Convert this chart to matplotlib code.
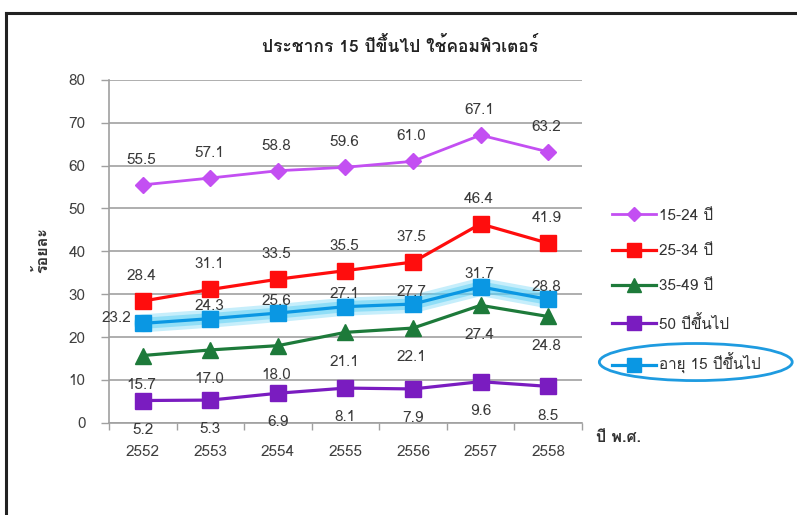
import matplotlib
matplotlib.use("Agg")
import matplotlib.pyplot as plt
import matplotlib.patches as mpatches
from matplotlib import font_manager as fm
from matplotlib.ft2font import FT2Font
import numpy as np

years = ["2552", "2553", "2554", "2555", "2556", "2557", "2558"]
age_15_24 = [55.5, 57.1, 58.8, 59.6, 61.0, 67.1, 63.2]
age_25_34 = [28.4, 31.1, 33.5, 35.5, 37.5, 46.4, 41.9]
age_35_49 = [15.7, 17.0, 18.0, 21.1, 22.1, 27.4, 24.8]
age_50_up = [5.2, 5.3, 6.9, 8.1, 7.9, 9.6, 8.5]
age_15_up = [23.2, 24.3, 25.6, 27.1, 27.7, 31.7, 28.8]
series_names = ["15-24 ปี", "25-34 ปี", "35-49 ปี", "50 ปีขึ้นไป", "อายุ 15 ปีขึ้นไป"]

# find a font that can draw Thai
thai_font = None
for f in fm.fontManager.ttflist:
    try:
        if 0x0E1B in FT2Font(f.fname).get_charmap():
            thai_font = f.name
            break
    except Exception:
        pass
families = [thai_font, "DejaVu Sans"] if thai_font else ["DejaVu Sans"]
plt.rcParams["font.family"] = families

fig = plt.figure(figsize=(7.97, 5.15), dpi=100)
ax = fig.add_axes([0.137, 0.179, 0.593, 0.666])
x = np.arange(len(years))

# glow behind the total line
ax.plot(x, age_15_up, color="#5ccff5", lw=13, alpha=0.35, solid_capstyle="round", zorder=2)
ax.plot(x, age_15_up, color="#5ccff5", lw=8, alpha=0.5, solid_capstyle="round", zorder=2)

l1, = ax.plot(x, age_15_24, color="#c34ff2", lw=2, marker="D", ms=8, zorder=3)
l2, = ax.plot(x, age_25_34, color="#ff0d0d", lw=2.3, marker="s", ms=11, zorder=3)
l3, = ax.plot(x, age_35_49, color="#1d7a3a", lw=2.3, marker="^", ms=11, zorder=3)
l4, = ax.plot(x, age_50_up, color="#7a1cc0", lw=2.3, marker="s", ms=11, zorder=3)
l5, = ax.plot(x, age_15_up, color="#0a97e3", lw=2.3, marker="s", ms=11, zorder=4)

lbl = dict(ha="center", va="center", fontsize=11, color="#3a3a3a", textcoords="offset points", zorder=6)
for i in range(len(years)):
    ax.annotate(f"{age_15_24[i]:.1f}", (x[i], age_15_24[i]), xytext=(-1, 18), **lbl)
    ax.annotate(f"{age_25_34[i]:.1f}", (x[i], age_25_34[i]), xytext=(-1, 18), **lbl)
    ax.annotate(f"{age_35_49[i]:.1f}", (x[i], age_35_49[i]), xytext=(-1, -21), **lbl)
    ax.annotate(f"{age_50_up[i]:.1f}", (x[i], age_50_up[i]), xytext=(0, -21), **lbl)
    off = (-19, 4) if i == 0 else (-1, 9)
    ax.annotate(f"{age_15_up[i]:.1f}", (x[i], age_15_up[i]), xytext=off, **lbl)

ax.set_xlim(-0.5, 6.5)
ax.set_ylim(0, 80)
ax.set_yticks(range(0, 81, 10))
ax.set_xticks(x)
ax.set_xticklabels(years)
ax.set_xticks(np.arange(-0.5, 7, 1), minor=True)
ax.tick_params(axis="x", which="major", length=0, pad=16, labelsize=11, labelcolor="#404040")
ax.tick_params(axis="x", which="minor", length=5, width=1, color="#a0a0a0")
ax.tick_params(axis="y", length=6, width=1, color="#a0a0a0", pad=11, labelsize=11, labelcolor="#404040")
ax.grid(axis="y", color="#a8a8a8", lw=1.3)
ax.set_axisbelow(True)
for s in ["top", "right"]:
    ax.spines[s].set_visible(False)
for s in ["left", "bottom"]:
    ax.spines[s].set_color("#a0a0a0")
    ax.spines[s].set_linewidth(1.2)

fig.text(0.502, 0.912, "ประชากร 15 ปีขึ้นไป ใช้คอมพิวเตอร์", ha="center", va="center",
         fontsize=12.5, fontweight="bold", color="#222222")
fig.text(0.052, 0.515, "ร้อยละ", rotation=90, ha="center", va="center", fontsize=11.5,
         fontweight="bold", color="#333333")
fig.text(0.748, 0.151, "ปี พ.ศ.", ha="left", va="center", fontsize=11.5, fontweight="bold", color="#333333")

leg = fig.legend([l1, l2, l3, l4, l5], series_names, loc="upper left", bbox_to_anchor=(0.768, 0.595),
                 frameon=False, fontsize=11, handlelength=2.9, handletextpad=0.15, labelspacing=1.4,
                 markerscale=0.9, borderaxespad=0, borderpad=0)
for t in leg.get_texts():
    t.set_color("#333333")

# ellipse around the total entry of the legend
ell = mpatches.Ellipse((0.873, 0.297), 0.242, 0.072, transform=fig.transFigure,
                       fill=False, edgecolor="#1e9be0", lw=2)
fig.add_artist(ell)

# frame lines of the picture
fig.add_artist(plt.Line2D([0.008, 0.999], [0.975, 0.975], transform=fig.transFigure, color="#222222", lw=2.2))
fig.add_artist(plt.Line2D([0.008, 0.008], [0.0, 0.975], transform=fig.transFigure, color="#222222", lw=2.2))

fig.savefig("out.png", dpi=100)
